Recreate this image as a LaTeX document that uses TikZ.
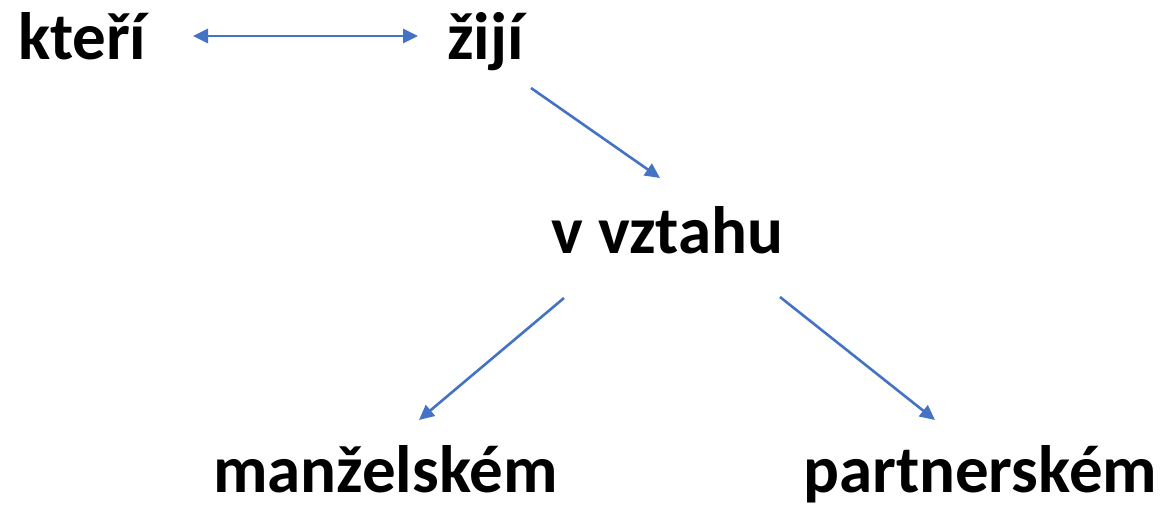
\documentclass[tikz,border=0pt]{standalone}
\usepackage{fontspec}
\setmainfont{Carlito}
\usetikzlibrary{arrows.meta}
\definecolor{arrowblue}{HTML}{4472C4}

\begin{document}
\begin{tikzpicture}[x=1pt, y=-1pt,
    word/.style={anchor=base west, inner sep=0pt, font=\fontsize{67}{80}\selectfont\bfseries},
    arrow/.style={-{Triangle[length=15pt, width=14pt]}, arrowblue, line width=2.6pt},
    dblarrow/.style={{Triangle[length=15pt, width=14pt]}-{Triangle[length=15pt, width=14pt]}, arrowblue, line width=2.6pt}
]
\useasboundingbox (0,0) rectangle (1171,508);

% Words
\node[word] (ktere) at (18,60) {kteří};
\node[word] (ziji) at (447,60) {žijí};
\node[word] (vztahu) at (551,253) {v vztahu};
\node[word] (manzel) at (213,492) {manželském};
\node[word] (partner) at (803,492) {partnerském};

% Arrow ends
\coordinate (k1) at (193,36);
\coordinate (z1) at (418,36);
\coordinate (z2) at (531,88);
\coordinate (v1) at (660,178);
\coordinate (v2) at (564,298);
\coordinate (v3) at (780,297);
\coordinate (m1) at (419,420);
\coordinate (p1) at (935,420);

% Arrows
\draw[dblarrow] (k1) -- (z1);
\draw[arrow] (z2) -- (v1);
\draw[arrow] (v2) -- (m1);
\draw[arrow] (v3) -- (p1);

\end{tikzpicture}
\end{document}
